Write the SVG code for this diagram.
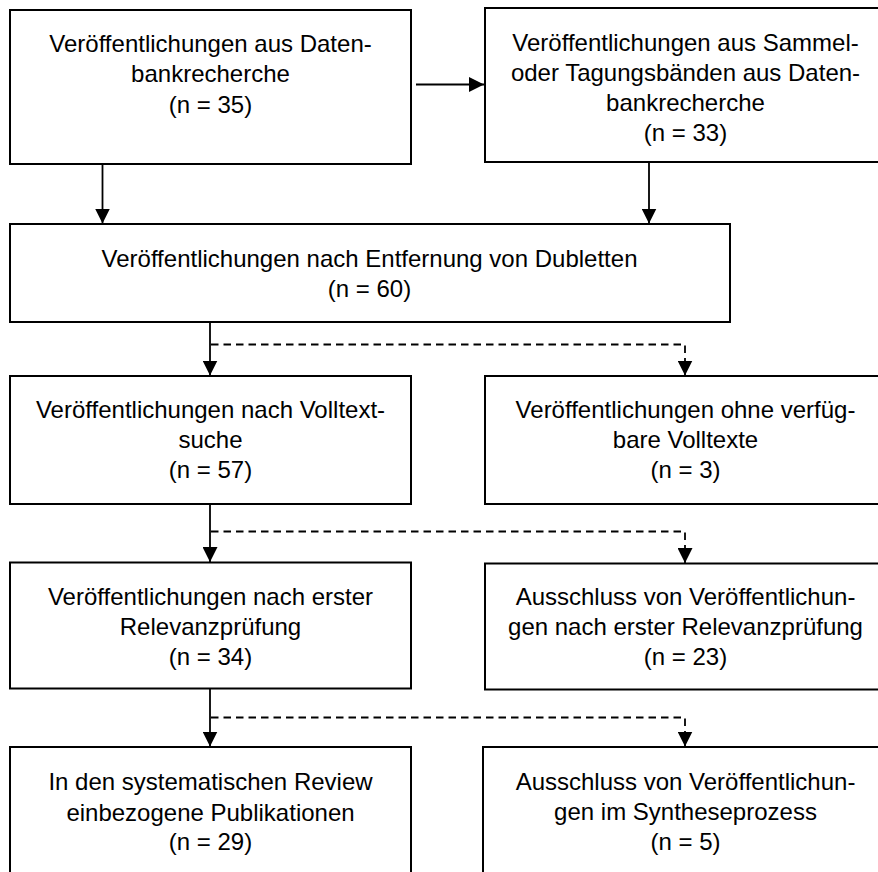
<svg xmlns="http://www.w3.org/2000/svg" width="878" height="872" viewBox="0 0 878 872">
<style>
.box{fill:#fff;stroke:#000;stroke-width:2}
.t{font-family:"Liberation Sans",Arial,sans-serif;font-size:24px;fill:#000;text-anchor:middle}
.c{fill:none;stroke:#000;stroke-width:1.8}
.d{fill:none;stroke:#000;stroke-width:1.8;stroke-dasharray:7.5 5}
</style>
<defs>
<marker id="ah" markerUnits="userSpaceOnUse" viewBox="0 0 15 15" refX="15" refY="7.5" markerWidth="15" markerHeight="15" orient="auto">
<path d="M0,0 L15,7.5 L0,15 Z" fill="#000"/>
</marker>
</defs>
<rect width="878" height="872" fill="#fff"/>
<g id="connectors">
<path class="c" d="M416,84.5 H484" marker-end="url(#ah)"/>
<path class="c" d="M102.5,165 V223.5" marker-end="url(#ah)"/>
<path class="c" d="M649,163 V223.5" marker-end="url(#ah)"/>
<path class="c" d="M210,323 V375.5" marker-end="url(#ah)"/>
<path class="d" d="M211,344.5 H685 V375.5" marker-end="url(#ah)"/>
<path class="c" d="M210,505 V562" marker-end="url(#ah)"/>
<path class="d" d="M211,531.5 H685 V563" marker-end="url(#ah)"/>
<path class="c" d="M210,689 V746.5" marker-end="url(#ah)"/>
<path class="d" d="M211,717.5 H685 V746.5" marker-end="url(#ah)"/>
</g>
<g id="n1">
<rect class="box" x="10" y="10" width="401" height="154"/>
<text class="t" x="210.5" y="52">Veröffentlichungen aus Daten-</text>
<text class="t" x="210.5" y="82">bankrecherche</text>
<text class="t" x="210.5" y="112.5">(n = 35)</text>
</g>
<g id="n2">
<rect class="box" x="485" y="8" width="401" height="154"/>
<text class="t" x="685.5" y="50.5">Veröffentlichungen aus Sammel-</text>
<text class="t" x="685.5" y="80.5">oder Tagungsbänden aus Daten-</text>
<text class="t" x="685.5" y="110.5">bankrecherche</text>
<text class="t" x="685.5" y="140.5">(n = 33)</text>
</g>
<g id="n3">
<rect class="box" x="10" y="224" width="720" height="98"/>
<text class="t" x="369.5" y="266.5">Veröffentlichungen nach Entfernung von Dubletten</text>
<text class="t" x="369.5" y="296.5">(n = 60)</text>
</g>
<g id="n4">
<rect class="box" x="10" y="376" width="401" height="128"/>
<text class="t" x="210.5" y="418">Veröffentlichungen nach Volltext-</text>
<text class="t" x="210.5" y="448">suche</text>
<text class="t" x="210.5" y="478">(n = 57)</text>
</g>
<g id="n5">
<rect class="box" x="485" y="376" width="401" height="128"/>
<text class="t" x="685.5" y="418">Veröffentlichungen ohne verfüg-</text>
<text class="t" x="685.5" y="448">bare Volltexte</text>
<text class="t" x="685.5" y="478">(n = 3)</text>
</g>
<g id="n6">
<rect class="box" x="10" y="562.5" width="401" height="126"/>
<text class="t" x="210.5" y="605">Veröffentlichungen nach erster</text>
<text class="t" x="210.5" y="635">Relevanzprüfung</text>
<text class="t" x="210.5" y="665">(n = 34)</text>
</g>
<g id="n7">
<rect class="box" x="485" y="563.5" width="401" height="126"/>
<text class="t" x="685.5" y="605">Ausschluss von Veröffentlichun-</text>
<text class="t" x="685.5" y="635">gen nach erster Relevanzprüfung</text>
<text class="t" x="685.5" y="665">(n = 23)</text>
</g>
<g id="n8">
<rect class="box" x="10" y="747" width="401" height="130"/>
<text class="t" x="210.5" y="790">In den systematischen Review</text>
<text class="t" x="210.5" y="820.5">einbezogene Publikationen</text>
<text class="t" x="210.5" y="850">(n = 29)</text>
</g>
<g id="n9">
<rect class="box" x="483" y="747" width="401" height="130"/>
<text class="t" x="685.5" y="790">Ausschluss von Veröffentlichun-</text>
<text class="t" x="685.5" y="820">gen im Syntheseprozess</text>
<text class="t" x="685.5" y="850">(n = 5)</text>
</g>
</svg>
